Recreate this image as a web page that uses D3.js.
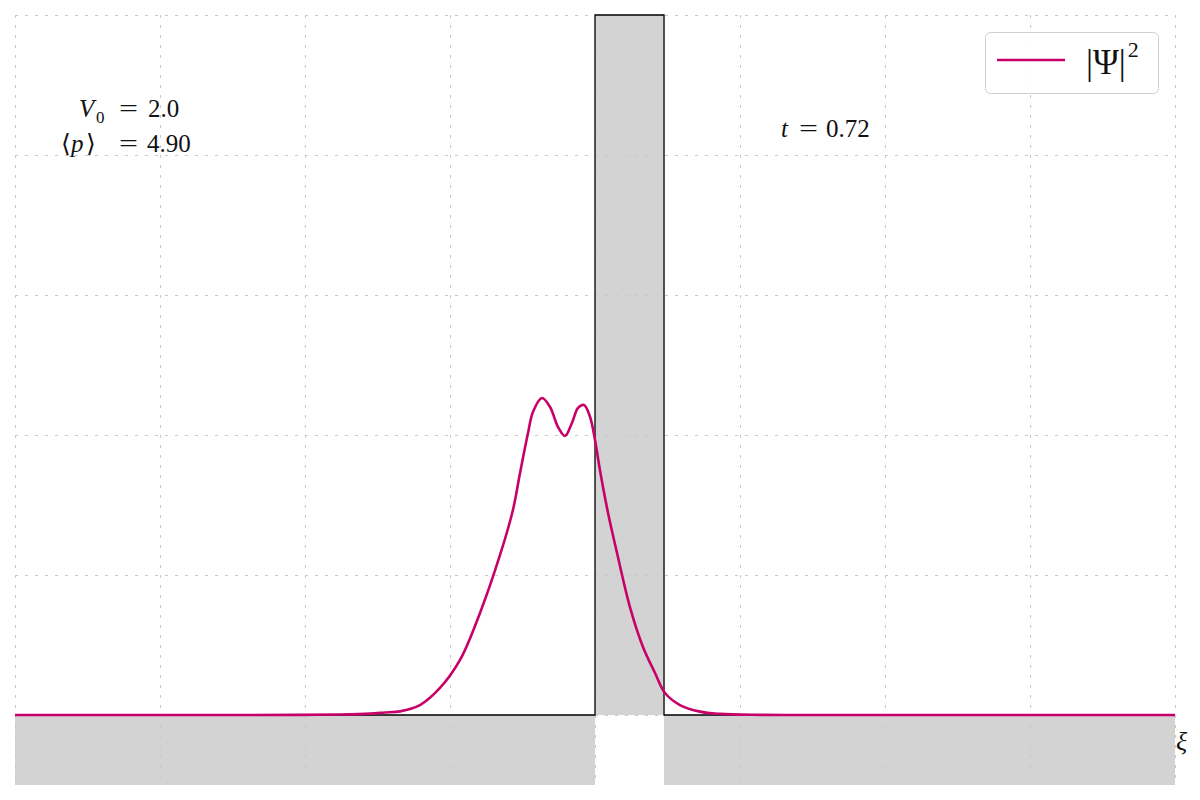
<!DOCTYPE html>
<html>
<head>
<meta charset="utf-8">
<script src="https://cdn.jsdelivr.net/npm/d3@7"></script>
<style>
html,body{margin:0;padding:0;background:#fff;}
svg{display:block;}
.tx{font-family:"Liberation Serif","DejaVu Serif",serif;fill:#111;}
</style>
</head>
<body>
<svg id="chart" width="1200" height="800"></svg>
<script>
// ---- data ----
const xiTicks = [-4, -3, -2, -1, 0, 1, 2, 3, 4];
const yTicks = [0, 1, 2, 3, 4, 5];
const xiValues = [-4, -2.5, -2.034, -1.759, -1.552, -1.448, -1.345, -1.207, -1.069, -0.931, -0.793, -0.655, -0.566, -0.517, -0.462, -0.428, -0.366, -0.310, -0.255, -0.207, -0.159, -0.117, -0.076, -0.034, 0, 0.034, 0.090, 0.152, 0.241, 0.331, 0.414, 0.483, 0.586, 0.724, 0.862, 1.138, 1.414, 2.5, 4];
const psi2Values = [0, 0, 0.001, 0.004, 0.01, 0.018, 0.026, 0.071, 0.193, 0.393, 0.729, 1.143, 1.464, 1.729, 2.014, 2.164, 2.264, 2.200, 2.057, 1.993, 2.086, 2.193, 2.214, 2.129, 1.964, 1.750, 1.443, 1.157, 0.771, 0.486, 0.300, 0.157, 0.071, 0.024, 0.008, 0.001, 0, 0, 0];
const potentialX = [-4, 0, 0, 0.476, 0.476, 4];
const potentialY = [0, 0, 5, 5, 0, 0];
const xDomain = [-4, 4];
const yDomain = [-0.5, 5];
const legendLabel = "|Ψ|";
const v0Value = "2.0";
const pValue = "4.90";
const tValue = "0.72";
const xLabel = "ξ";

// ---- chart ----
const svg = d3.select("#chart");
const x = d3.scaleLinear().domain(xDomain).range([15, 1175]);
const y = d3.scaleLinear().domain(yDomain).range([785, 15]);
const magenta = "#c8006a";
const gray = "#d3d3d3";

// lower gray fill (below zero, outside barrier)
const lowerParts = [[xDomain[0], potentialX[1]], [potentialX[3], xDomain[1]]];
lowerParts.forEach(p => {
  svg.append("rect")
    .attr("x", x(p[0])).attr("y", y(0))
    .attr("width", x(p[1]) - x(p[0])).attr("height", y(yDomain[0]) - y(0))
    .attr("fill", gray);
});
// barrier fill
const potPts = potentialX.map((d, i) => [d, potentialY[i]]);
svg.append("path")
  .attr("d", d3.area().x(d => x(d[0])).y0(y(0)).y1(d => y(d[1]))(potPts))
  .attr("fill", gray);

// grid
const grid = svg.append("g").attr("stroke", "#c8c8c8").attr("stroke-width", 1).attr("stroke-dasharray", "3,7");
grid.selectAll("line.v").data(xiTicks).enter().append("line")
  .attr("x1", d => x(d) + 0.5).attr("x2", d => x(d) + 0.5)
  .attr("y1", y(yDomain[1])).attr("y2", y(yDomain[0]));
grid.selectAll("line.h").data(yTicks).enter().append("line")
  .attr("y1", d => y(d) + 0.5).attr("y2", d => y(d) + 0.5)
  .attr("x1", x(xDomain[0])).attr("x2", x(xDomain[1]));

// potential outline
svg.append("path")
  .attr("d", d3.line().x(d => x(d[0])).y(d => y(d[1]))(potPts))
  .attr("fill", "none").attr("stroke", "#000").attr("stroke-width", 1.3);

// |psi|^2
const pts = xiValues.map((d, i) => [d, psi2Values[i]]);
svg.append("path")
  .attr("d", d3.line().x(d => x(d[0])).y(d => y(d[1])).curve(d3.curveCatmullRom.alpha(0.5))(pts))
  .attr("fill", "none").attr("stroke", magenta).attr("stroke-width", 2.6)
  .attr("stroke-linejoin", "round");

// info text
const info = svg.append("g").attr("class", "tx").style("font-size", "25px");
function put(xx, yy, s, italic, size) {
  const t = info.append("text").attr("x", xx).attr("y", yy).text(s);
  if (italic) t.style("font-style", "italic");
  if (size) t.style("font-size", size);
  return t;
}
// row 1: V_0 = 2.0
put(79, 117, "V", true);
put(96, 123, "0", false, "17px");
put(119, 117, "=", false, "26px").attr("textLength", 19).attr("lengthAdjust", "spacingAndGlyphs");
put(148, 117, v0Value);
// row 2: <p> = 4.90
put(61, 152, "⟨", false);
put(71, 152, "p", true);
put(86, 152, "⟩", false);
put(119, 152, "=", false, "26px").attr("textLength", 19).attr("lengthAdjust", "spacingAndGlyphs");
put(147, 152, pValue);
// t = 0.72
put(781, 137, "t", true);
put(799, 137, "=", false, "26px").attr("textLength", 19).attr("lengthAdjust", "spacingAndGlyphs");
put(826, 137, tValue);

svg.append("text").attr("class", "tx").attr("x", 1176).attr("y", 750)
  .style("font-size", "26px").style("font-style", "italic").text(xLabel);

// legend
const lg = svg.append("g");
lg.append("rect").attr("x", 985.5).attr("y", 32.5).attr("width", 173).attr("height", 61).attr("rx", 5)
  .attr("fill", "#fff").attr("fill-opacity", 0.9).attr("stroke", "#d0d0d0").attr("stroke-width", 1);
lg.append("line").attr("x1", 997).attr("x2", 1065).attr("y1", 60).attr("y2", 60)
  .attr("stroke", magenta).attr("stroke-width", 2.6);
const lt = lg.append("text").attr("class", "tx").attr("x", 1086).attr("y", 74).style("font-size", "35px");
lt.append("tspan").text(legendLabel);
lt.append("tspan").attr("dy", -17).attr("dx", 2).style("font-size", "22px").text("2");
</script>
</body>
</html>
